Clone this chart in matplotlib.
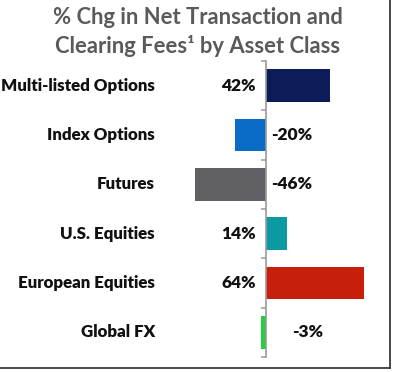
import matplotlib
matplotlib.use("Agg")
import matplotlib.pyplot as plt
import matplotlib.transforms as mtransforms
from matplotlib.lines import Line2D

plt.rcParams['font.family'] = ['Lato', 'DejaVu Sans']

# data
categories = ['Multi-listed Options', 'Index Options', 'Futures',
              'U.S. Equities', 'European Equities', 'Global FX']
pct_change = [42, -20, -46, 14, 64, -3]
bar_colors = ['#0b1c59', '#0a6cc6', '#606065', '#0b9aa2', '#c71f0c', '#23d13f']

W, H = 394, 372
fig = plt.figure(figsize=(W / 100, H / 100), dpi=100)

# axes placed so that 0% sits at x=265.5 px, ~1.54 px per percent
ax_left, ax_right = 160, 385
ax_top, ax_bot = 61, 357
ax = fig.add_axes([ax_left / W, 1 - ax_bot / H, (ax_right - ax_left) / W, (ax_bot - ax_top) / H])
x0, scale = 265.5, 1.54
ax.set_xlim((ax_left - x0) / scale, (ax_right - x0) / scale)
ax.set_ylim(len(categories) - 0.5, -0.5)

ypos = list(range(len(categories)))
ax.barh(ypos, pct_change, height=0.66, color=bar_colors, zorder=2)

for s in ['top', 'right', 'bottom']:
    ax.spines[s].set_visible(False)
ax.spines['left'].set_position(('data', 0))
ax.spines['left'].set_color('#9a9a9a')
ax.spines['left'].set_linewidth(1.2)
ax.set_xticks([])
ax.set_yticks([i - 0.5 for i in range(len(categories) + 1)])
ax.set_yticklabels([])
ax.tick_params(axis='y', length=3.5, width=1.1, color='#9a9a9a', direction='out')

# category names, right aligned at x=155 px
trans = mtransforms.blended_transform_factory(fig.transFigure, ax.transData)
for i, name in enumerate(categories):
    ax.text(155 / W, i, name, transform=trans, ha='right', va='center',
            fontsize=12.2, fontweight='heavy', color='#111111')

# value labels: positives left of the axis, negatives right of it
for i, v in enumerate(pct_change):
    if v >= 0:
        off, ha = -7, 'right'
    else:
        off, ha = 4, 'left'
    if v == -3:
        off = 19
    ax.annotate(f'{v}%', xy=(0, i), xytext=(off, 0), textcoords='offset points',
                ha=ha, va='center', fontsize=12.5, fontweight='heavy', color='#111111')

fig.text(198 / W, 1 - 18 / H, '% Chg in Net Transaction and', ha='center', va='center',
         fontsize=15.8, fontweight='bold', color='#5a5a5a')
fig.text(198 / W, 1 - 46 / H, 'Clearing Fees\u00b9 by Asset Class', ha='center', va='center',
         fontsize=15.8, fontweight='bold', color='#5a5a5a')

# frame lines at the right and bottom edges
fig.add_artist(Line2D([390 / W, 390 / W], [1 - 368 / H, 1], transform=fig.transFigure,
                      color='#3a3a3a', lw=1.3))
fig.add_artist(Line2D([0, 390 / W], [1 - 368 / H, 1 - 368 / H], transform=fig.transFigure,
                      color='#3a3a3a', lw=1.3))

fig.savefig('out.png', dpi=100)
